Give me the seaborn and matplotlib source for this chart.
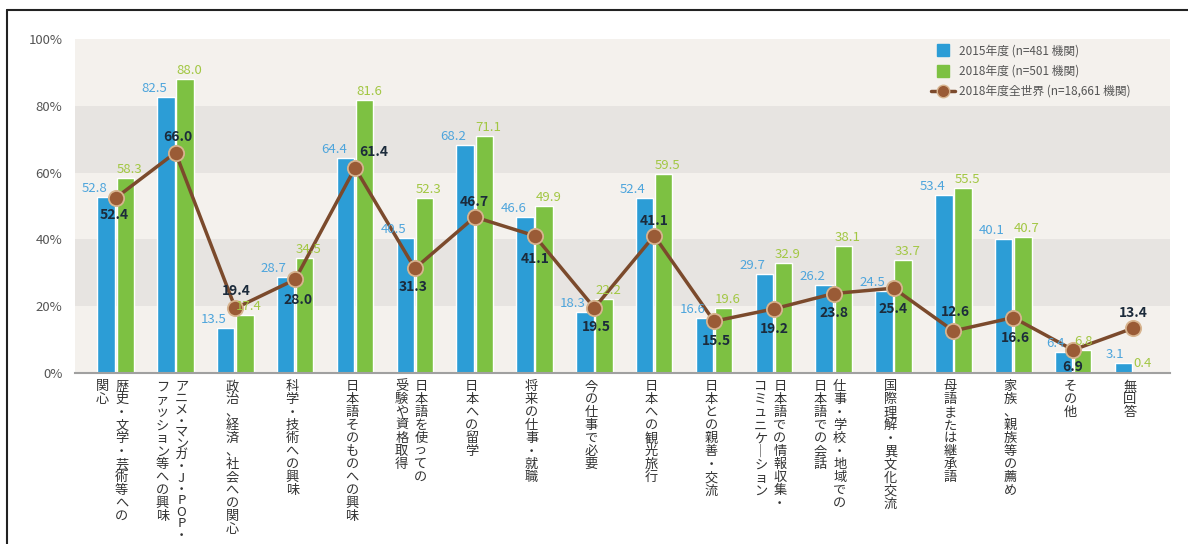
import matplotlib
matplotlib.use("Agg")
import numpy as np
import pandas as pd
import seaborn as sns
import matplotlib.pyplot as plt
from matplotlib.lines import Line2D

# 学習目的（複数回答）
categories = [
    "歴史・文学・芸術等への関心", "アニメ・マンガ・J・POP・ファッション等への興味",
    "政治、経済、社会への関心", "科学・技術への興味", "日本語そのものへの興味",
    "日本語を使っての受験や資格取得", "日本への留学", "将来の仕事・就職",
    "今の仕事で必要", "日本への観光旅行", "日本との親善・交流",
    "日本語での情報収集・コミュニケーション", "仕事・学校・地域での日本語での会話",
    "国際理解・異文化交流", "母語または継承語", "家族、親族等の薦め", "その他", "無回答",
]
# vertical tick labels, columns read right to left
tick_columns = [
    ["歴史・文学・芸術等への", "関心"],
    ["アニメ・マンガ・J・POP・", "ファッション等への興味"],
    ["政治、経済、社会への関心"],
    ["科学・技術への興味"],
    ["日本語そのものへの興味"],
    ["日本語を使っての", "受験や資格取得"],
    ["日本への留学"],
    ["将来の仕事・就職"],
    ["今の仕事で必要"],
    ["日本への観光旅行"],
    ["日本との親善・交流"],
    ["日本語での情報収集・", "コミュニケーション"],
    ["仕事・学校・地域での", "日本語での会話"],
    ["国際理解・異文化交流"],
    ["母語または継承語"],
    ["家族、親族等の薦め"],
    ["その他"],
    ["無回答"],
]
rate_2015 = [52.8, 82.5, 13.5, 28.7, 64.4, 40.5, 68.2, 46.6, 18.3, 52.4, 16.6, 29.7, 26.2, 24.5, 53.4, 40.1, 6.4, 3.1]
rate_2018 = [58.3, 88.0, 17.4, 34.5, 81.6, 52.3, 71.1, 49.9, 22.2, 59.5, 19.6, 32.9, 38.1, 33.7, 55.5, 40.7, 6.8, 0.4]
world_2018 = [52.4, 66.0, 19.4, 28.0, 61.4, 31.3, 46.7, 41.1, 19.5, 41.1, 15.5, 19.2, 23.8, 25.4, 12.6, 16.6, 6.9, 13.4]

series_names = ["2015年度 (n=481 機関)", "2018年度 (n=501 機関)", "2018年度全世界 (n=18,661 機関)"]
yticks = [0, 20, 40, 60, 80, 100]

# label offsets (pixels) for the world line values
world_offsets = [(-2, -17), (2, 16), (1, 17), (3, -21), (19, 16), (-2, -19), (0, 15), (1, -23), (2, -19),
                 (0, 15), (2, -20), (0, -20), (0, -19), (-1, -21), (2, 19), (2, -20), (0, -17), (0, 15)]

blue = "#2c9dd6"
green = "#7dc142"
brown = "#7b4a2c"

sns.set_style("white")
plt.rcParams['font.family'] = ['Noto Sans CJK JP', 'DejaVu Sans']

df = pd.DataFrame({
    "項目": categories * 2,
    "割合": rate_2015 + rate_2018,
    "年度": [series_names[0]] * len(categories) + [series_names[1]] * len(categories),
})

fig = plt.figure(figsize=(11.88, 5.44), dpi=100)
ax = fig.add_axes([75 / 1188, 1 - 373 / 544, 1095 / 1188, 334 / 544])

# background bands
for k, lo in enumerate(range(0, 100, 20)):
    ax.axhspan(lo, lo + 20, color="#e7e4e1" if k % 2 else "#f4f1ed", zorder=0, lw=0)

sns.barplot(data=df, x="項目", y="割合", hue="年度", palette=[blue, green], width=0.64, gap=0.09,
            saturation=1, legend=False, ax=ax, zorder=2)

x = np.arange(len(categories))
ax.plot(x, world_2018, color=brown, lw=2.5, marker="o", markersize=11, markerfacecolor="#9a5b36",
        markeredgecolor="#d7b48f", markeredgewidth=1.3, zorder=4)

for i in range(len(categories)):
    ax.annotate(f"{rate_2015[i]:.1f}", (i - 0.14, rate_2015[i]), xytext=(0, 2), textcoords="offset pixels",
                ha="right", va="bottom", fontsize=9.5, color="#4ea5dc", zorder=5)
    ax.annotate(f"{rate_2018[i]:.1f}", (i + 0.015, rate_2018[i]), xytext=(0, 2), textcoords="offset pixels",
                ha="left", va="bottom", fontsize=9.5, color="#a2c743", zorder=5)
    dx, dy = world_offsets[i]
    ax.annotate(f"{world_2018[i]:.1f}", (i, world_2018[i]), xytext=(dx, dy), textcoords="offset pixels",
                ha="center", va="center", fontsize=10, fontweight="bold", color="#1c2b3b", zorder=6)

# vertical tick labels
xt = ax.get_xaxis_transform()
for i, cols in enumerate(tick_columns):
    offs = [-0.05] if len(cols) == 1 else [0.1, -0.22]
    for col, off in zip(cols, offs):
        ls = 0.84 if len(col) > 12 else 1.0
        ax.text(i + off, -0.022, "\n".join(col.replace("ー", "｜")), transform=xt, ha="center", va="top",
                multialignment="center", fontsize=9.5, linespacing=ls, color="#333333")

ax.set_xlim(-0.68, len(categories) - 1 + 0.62)
ax.set_ylim(0, 100)
ax.set_xticks(x)
ax.set_xticklabels([])
ax.set_yticks(yticks)
ax.set_yticklabels([f"{v}%" for v in yticks], fontsize=9.5, color="#555555")
ax.tick_params(axis="both", length=0)
ax.tick_params(axis="y", pad=9)
ax.set_xlabel("")
ax.set_ylabel("")
for s in ["top", "right", "left"]:
    ax.spines[s].set_visible(False)
ax.spines["bottom"].set_color("#a0a0a0")
ax.spines["bottom"].set_linewidth(1.5)

handles = [
    Line2D([], [], marker="s", linestyle="none", color=blue, markersize=8),
    Line2D([], [], marker="s", linestyle="none", color=green, markersize=8),
    Line2D([], [], color=brown, lw=2.5, marker="o", markersize=9, markerfacecolor="#9a5b36",
           markeredgecolor="#d7b48f"),
]
leg = ax.legend(handles, series_names, loc="upper left", bbox_to_anchor=(0.772, 1.015), frameon=False,
                fontsize=8.5, handlelength=2.0, handletextpad=0.4, labelspacing=0.6)
for t in leg.get_texts():
    t.set_color("#555555")

# figure frame (left and top edges)
fig.add_artist(Line2D([7 / 1188, 7 / 1188], [0, 1 - 10 / 544], transform=fig.transFigure, color="#222222", lw=1.5))
fig.add_artist(Line2D([7 / 1188, 1], [1 - 10 / 544, 1 - 10 / 544], transform=fig.transFigure, color="#222222", lw=1.5))

fig.savefig("out.png", dpi=100)
